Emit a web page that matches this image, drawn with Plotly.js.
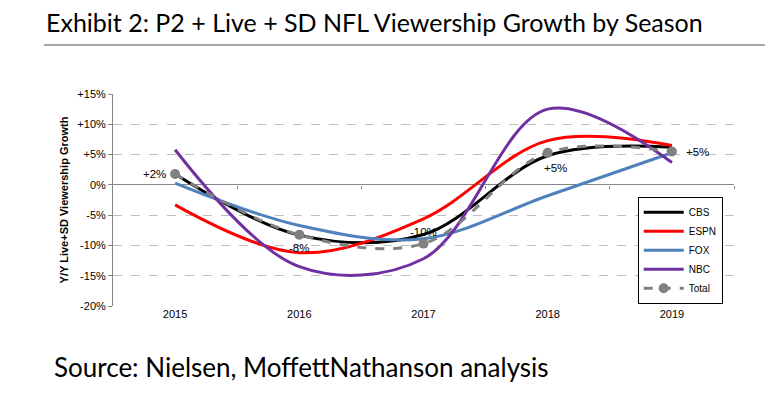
<!DOCTYPE html>
<html>
<head>
<meta charset="utf-8">
<script src="https://cdn.plot.ly/plotly-3.0.1.min.js"></script>
<style>html,body{margin:0;padding:0;background:#fff;}#chart{width:770px;height:399px;}</style>
</head>
<body>
<div id="chart"></div>
<script>
const seasons = ['2015', '2016', '2017', '2018', '2019'];
const cbs   = [1.8, -8.3, -8.2, 4.8, 6.2];
const espn  = [-3.3, -11.2, -5.6, 7.3, 6.5];
const fox   = [0.3, -6.7, -8.9, -1.8, 5.3];
const nbc   = [5.8, -13.5, -12.2, 12.5, 3.7];
const total = [1.8, -8.25, -9.7, 5.3, 5.5];
const totalLabels = ['+2%', '-8%', '-10%', '+5%', '+5%'];
const yTickVals = [-20, -15, -10, -5, 0, 5, 10, 15];
const yTickText = ['-20%', '-15%', '-10%', '-5%', '0%', '+5%', '+10%', '+15%'];
const boundaryTicks = [0.5, 1.5, 2.5, 3.5, 4.5];

const AR = 'Liberation Sans, Arial, sans-serif';
function line(name, y, color, extra) {
  return Object.assign({
    type: 'scatter', mode: 'lines', name: name, x: seasons, y: y,
    line: {color: color, width: 3, shape: 'spline', smoothing: 1},
    hoverinfo: 'skip'
  }, extra || {});
}
const traces = [
  line('CBS', cbs, '#000000'),
  line('ESPN', espn, '#ff0000'),
  line('FOX', fox, '#4f81bd'),
  line('NBC', nbc, '#7030a0'),
  line('Total', total, '#808080', {
    mode: 'lines+markers',
    line: {color: '#808080', width: 3, dash: 'dash', shape: 'spline', smoothing: 1},
    marker: {color: '#808080', size: 10, symbol: 'circle'}
  }),
  {type: 'scatter', mode: 'lines', x: [0], y: [0], xaxis: 'x2', yaxis: 'y',
   showlegend: false, hoverinfo: 'skip', line: {width: 0}}
];

const labelPos = [
  {xanchor: 'right', yanchor: 'middle', xshift: -7, yshift: 0},
  {xanchor: 'center', yanchor: 'middle', xshift: 0, yshift: -13},
  {xanchor: 'center', yanchor: 'middle', xshift: 0, yshift: 12},
  {xanchor: 'center', yanchor: 'middle', xshift: 8, yshift: -15},
  {xanchor: 'left', yanchor: 'middle', xshift: 12, yshift: 0}
];
const annotations = seasons.map((s, i) => Object.assign({
  x: i, y: total[i], xref: 'x', yref: 'y', text: totalLabels[i], showarrow: false,
  font: {family: AR, size: 11.5, color: '#000'}
}, labelPos[i]));

annotations.push({
  xref: 'paper', yref: 'paper', x: -0.111, y: 1.34, xanchor: 'left', yanchor: 'middle',
  text: 'Exhibit 2: P2 + Live + SD NFL Viewership Growth by Season', showarrow: false,
  font: {family: 'Lato, Carlito, sans-serif', size: 25, color: '#000'}
});
annotations.push({
  xref: 'paper', yref: 'paper', x: -0.098, y: -0.29, xanchor: 'left', yanchor: 'middle',
  text: 'Source: Nielsen, MoffettNathanson analysis', showarrow: false,
  font: {family: 'Lato, Carlito, sans-serif', size: 26, color: '#000'}
});

const shapes = [{
  type: 'line', xref: 'paper', yref: 'paper', x0: -0.111, x1: 1.05, y0: 1.231, y1: 1.231,
  line: {color: '#a6a6a6', width: 2}
}];

const layout = {
  width: 770, height: 399,
  margin: {l: 113, r: 36, t: 94, b: 93},
  paper_bgcolor: '#ffffff', plot_bgcolor: '#ffffff',
  showlegend: true,
  legend: {
    x: 0.845, y: 0.515, xanchor: 'left', yanchor: 'top',
    bgcolor: '#ffffff', bordercolor: '#000000', borderwidth: 1,
    font: {family: AR, size: 10, color: '#000'},
    tracegroupgap: 0, itemwidth: 40
  },
  xaxis: {
    type: 'category', range: [-0.5, 4.5], showgrid: false, zeroline: false,
    showline: false, ticks: '', tickfont: {family: AR, size: 11, color: '#000'},
    fixedrange: true
  },
  xaxis2: {
    type: 'linear', overlaying: 'x', anchor: 'free', position: 20 / 35, side: 'bottom',
    range: [-0.5, 4.5], showgrid: false, zeroline: false, showline: false,
    tickmode: 'array', tickvals: boundaryTicks, ticks: 'outside', ticklen: 3,
    tickcolor: '#868686', showticklabels: false
  },
  yaxis: {
    range: [-20, 15], tickmode: 'array', tickvals: yTickVals, ticktext: yTickText,
    showgrid: true, gridcolor: '#bfbfbf', griddash: 'dash', gridwidth: 1,
    zeroline: true, zerolinecolor: '#868686', zerolinewidth: 1,
    showline: true, linecolor: '#868686', linewidth: 1,
    ticks: 'outside', ticklen: 4, tickcolor: '#868686',
    tickfont: {family: AR, size: 11, color: '#000'},
    title: {text: 'Y/Y Live+SD Viewership Growth', standoff: 6,
            font: {family: AR, size: 11, color: '#000', weight: 'bold'}},
    fixedrange: true
  },
  annotations: annotations,
  shapes: shapes
};

Plotly.newPlot('chart', traces, layout, {displayModeBar: false, staticPlot: true});
</script>
</body>
</html>
